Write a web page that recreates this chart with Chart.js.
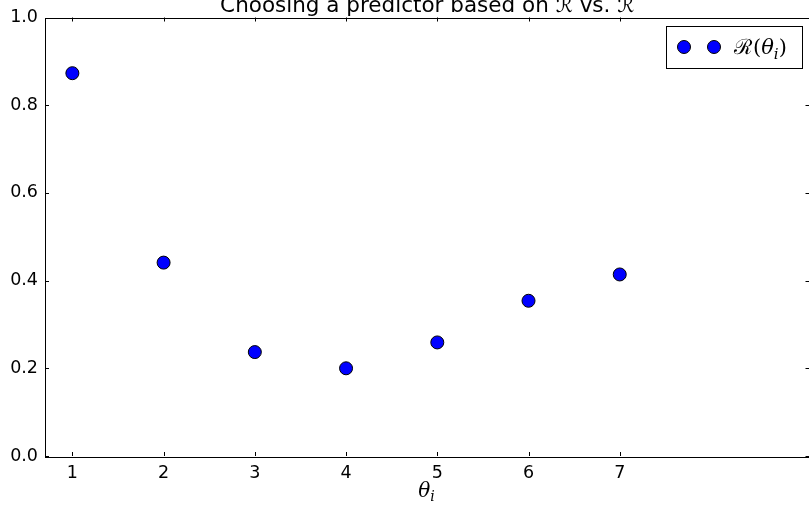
<!DOCTYPE html>
<html>
<head>
<meta charset="utf-8">
<script src="https://cdn.jsdelivr.net/npm/chart.js@4/dist/chart.umd.min.js"></script>
<style>
  html, body { margin: 0; padding: 0; background: #fff; overflow: hidden; width: 809px; height: 508px; }
  #wrap { position: relative; width: 809px; height: 508px; overflow: hidden; }
  canvas { display: block; }
</style>
</head>
<body>
<div id="wrap"><canvas id="c" width="817" height="508"></canvas></div>
<script>
// Candidate predictor index and its true risk
const thetaIndex = [1, 2, 3, 4, 5, 6, 7];
const riskValues = [0.873, 0.441, 0.237, 0.200, 0.259, 0.354, 0.414];
const yTickValues = [0.0, 0.2, 0.4, 0.6, 0.8, 1.0];

const titleText = 'Choosing a predictor based on \u211B\u0302 vs. \u211B';
const seriesLabel = '\u211B(\u03B8\u1D62)';
const xAxisLabel = '\u03B8\u1D62';

const points = thetaIndex.map((x, i) => ({ x: x, y: riskValues[i] }));

const TICK_LEN = 4;

// Draws a short math-style label: greek letters in italic, subscript i lowered and smaller
function drawMathLabel(ctx, text, x, y, size) {
  let cx = x;
  for (const ch of text) {
    let font = size + 'px "DejaVu Serif"';
    let dy = 0;
    let glyph = ch;
    if (/[\u0370-\u03FF]/.test(ch)) {
      font = 'italic ' + size + 'px "DejaVu Serif"';
    } else if (ch === '\u1D62') {
      glyph = 'i';
      font = 'italic ' + Math.round(size * 0.7) + 'px "DejaVu Serif"';
      dy = size * 0.22;
    }
    ctx.font = font;
    ctx.fillText(glyph, cx, y + dy);
    cx += ctx.measureText(glyph).width + (ch === '\u211B' ? 1 : 0);
  }
  return cx - x;
}

// Title, frame with inward ticks on all four sides, and boxed legend
const framePlugin = {
  id: 'frame',
  beforeDatasetsDraw(chart) {
    const { ctx, chartArea: a, scales } = chart;
    ctx.save();
    ctx.strokeStyle = '#000';
    ctx.lineWidth = 1;
    ctx.strokeRect(Math.round(a.left) + 0.5, Math.round(a.top) + 0.5,
                   Math.round(a.right - a.left), Math.round(a.bottom - a.top));
    ctx.beginPath();
    scales.x.ticks.forEach(t => {
      const px = Math.round(scales.x.getPixelForValue(t.value)) + 0.5;
      ctx.moveTo(px, a.bottom); ctx.lineTo(px, a.bottom - TICK_LEN);
      ctx.moveTo(px, a.top); ctx.lineTo(px, a.top + TICK_LEN);
    });
    scales.y.ticks.forEach(t => {
      const py = Math.round(scales.y.getPixelForValue(t.value)) + 0.5;
      ctx.moveTo(a.left, py); ctx.lineTo(a.left + TICK_LEN, py);
      ctx.moveTo(a.right, py); ctx.lineTo(a.right - TICK_LEN, py);
    });
    ctx.stroke();
    ctx.restore();
  },
  afterDraw(chart) {
    const { ctx, chartArea: a } = chart;
    ctx.save();
    // title
    ctx.fillStyle = '#000';
    ctx.font = '21.5px "DejaVu Sans"';
    ctx.textAlign = 'center';
    ctx.textBaseline = 'alphabetic';
    ctx.fillText(titleText, (a.left + a.right) / 2, 11.5);

    // legend
    const ds = chart.data.datasets[0];
    ctx.strokeStyle = '#000';
    ctx.lineWidth = 1;
    ctx.fillStyle = '#fff';
    ctx.fillRect(666.5, 26.5, 136, 42);
    ctx.strokeRect(666.5, 26.5, 136, 42);
    [684, 714].forEach(cx => {
      ctx.beginPath();
      ctx.arc(cx, 47, 6.5, 0, Math.PI * 2);
      ctx.fillStyle = ds.backgroundColor;
      ctx.fill();
      ctx.stroke();
    });
    ctx.fillStyle = '#000';
    ctx.textAlign = 'left';
    ctx.textBaseline = 'alphabetic';
    drawMathLabel(ctx, ds.label, 734, 54, 21);

    // x axis label, centred under the plot
    ctx.font = 'italic 20px "DejaVu Serif"';
    const w = ctx.measureText('\u03B8').width + 6;
    drawMathLabel(ctx, xAxisLabel, (a.left + a.right) / 2 - w / 2, 497, 20);
    ctx.restore();
  }
};

new Chart(document.getElementById('c'), {
  type: 'scatter',
  data: {
    datasets: [{
      label: seriesLabel,
      data: points,
      backgroundColor: '#0000ff',
      borderColor: '#000000',
      borderWidth: 1,
      pointRadius: 6.5,
      pointHoverRadius: 6.5,
      showLine: false
    }]
  },
  options: {
    responsive: false,
    animation: false,
    devicePixelRatio: 1,
    layout: { padding: { top: 16, right: 0, left: 0, bottom: 0 } },
    plugins: {
      legend: { display: false },
      title: { display: false },
      tooltip: { enabled: false }
    },
    scales: {
      x: {
        type: 'linear',
        min: 0.7,
        max: 9.08,
        afterBuildTicks: s => { s.ticks = thetaIndex.map(v => ({ value: v })); },
        afterFit: s => { s.height = 52; },
        grid: { display: false, drawTicks: false },
        border: { display: false },
        ticks: {
          color: '#000',
          font: { family: 'DejaVu Sans', size: 17.5 },
          padding: 7,
          maxRotation: 0,
          callback: v => String(v)
        }
      },
      y: {
        min: 0,
        max: 1,
        afterBuildTicks: s => { s.ticks = yTickValues.map(v => ({ value: v })); },
        afterFit: s => { s.width = 45; },
        grid: { display: false, drawTicks: false },
        border: { display: false },
        ticks: {
          color: '#000',
          font: { family: 'DejaVu Sans', size: 17.5 },
          padding: 7,
          callback: v => Number(v).toFixed(1)
        }
      }
    }
  },
  plugins: [framePlugin]
});
</script>
</body>
</html>
